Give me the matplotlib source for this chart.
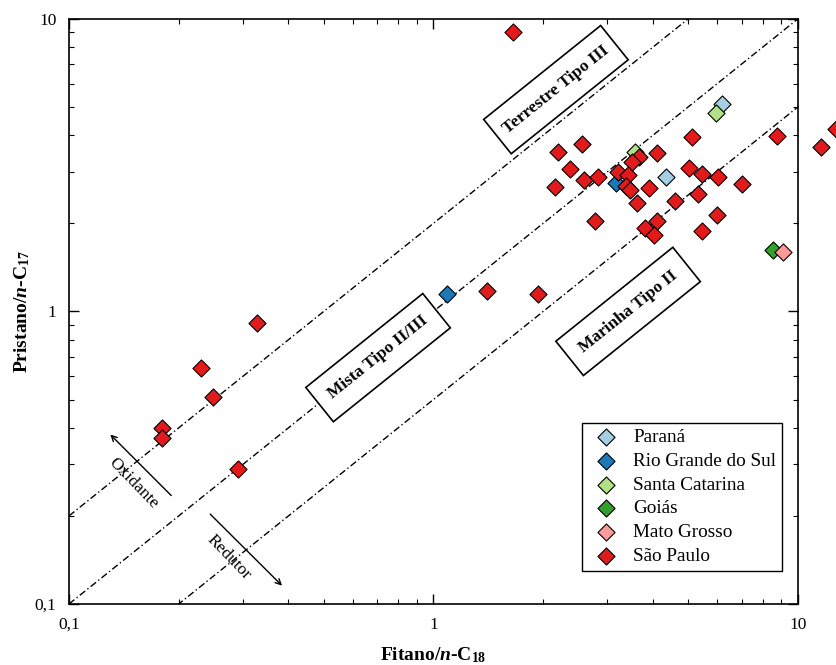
import numpy as np
import matplotlib
matplotlib.use("Agg")
import matplotlib.pyplot as plt
from matplotlib.patches import Rectangle
from matplotlib.transforms import Affine2D, ScaledTranslation
from matplotlib.ticker import FuncFormatter, NullFormatter, LogLocator

plt.rcParams['font.family'] = ['Liberation Serif', 'DejaVu Serif']
plt.rcParams['mathtext.fontset'] = 'custom'
plt.rcParams['mathtext.rm'] = 'Liberation Serif:bold'
plt.rcParams['mathtext.bf'] = 'Liberation Serif:bold'
plt.rcParams['mathtext.it'] = 'Liberation Serif:italic:bold'

# Fitano/n-C18 (x) e Pristano/n-C17 (y) por estado
parana_x = [6.18, 4.34]
parana_y = [5.10, 2.87]

rgs_x = [3.17, 1.09]
rgs_y = [2.75, 1.15]

sc_x = [5.95, 3.57]
sc_y = [4.75, 3.51]

goias_x = [8.52]
goias_y = [1.62]

mt_x = [9.12]
mt_y = [1.59]

sp_x = [1.65, 2.20, 2.56, 2.37, 2.15, 2.59, 2.83, 2.77, 3.66, 3.50,
        4.10, 3.21, 3.42, 3.38, 3.46, 3.91, 3.62, 4.61, 3.80, 4.10,
        4.03, 5.13, 8.76, 11.6, 12.7, 5.04, 5.47, 6.03, 7.00, 5.32,
        6.01, 5.44, 1.40, 1.94, 0.329, 0.23, 0.249, 0.18, 0.18, 0.29]
sp_y = [9.00, 3.50, 3.72, 3.06, 2.67, 2.81, 2.87, 2.04, 3.36, 3.25,
        3.47, 3.00, 2.92, 2.69, 2.60, 2.65, 2.35, 2.39, 1.93, 2.03,
        1.82, 3.96, 3.98, 3.65, 4.20, 3.10, 2.94, 2.88, 2.72, 2.51,
        2.14, 1.89, 1.17, 1.15, 0.91, 0.64, 0.51, 0.40, 0.37, 0.29]

estados = ['Paraná', 'Rio Grande do Sul', 'Santa Catarina', 'Goiás',
           'Mato Grosso', 'São Paulo']
cores = ['#a6cee3', '#1f78b4', '#b2df8a', '#33a02c', '#fb9a99', '#e31a1c']

# linhas de razao Pr/n-C17 = k * Ph/n-C18
razoes = [2.0, 1.0, 0.5]
x_linha = np.array([0.1, 10.0])

W, H = 8.36, 6.65
fig = plt.figure(figsize=(W, H), dpi=100)
ax = fig.add_axes([0.0825, 0.0917, 0.872, 0.880])

for k in razoes:
    ax.plot(x_linha, k * x_linha, color='black', lw=1.0,
            dashes=(5, 2, 1, 2), zorder=1)

series = [(parana_x, parana_y), (rgs_x, rgs_y), (sc_x, sc_y),
          (goias_x, goias_y), (mt_x, mt_y), (sp_x, sp_y)]
for (xs, ys), nome, cor in zip(series, estados, cores):
    ax.scatter(xs, ys, marker='D', s=76, facecolor=cor, edgecolor='black',
               linewidth=0.8, label=nome, zorder=3, clip_on=False)

ax.set_xscale('log')
ax.set_yscale('log')
ax.set_xlim(0.1, 10)
ax.set_ylim(0.1, 10)

fmt = FuncFormatter(lambda v, p: ('%g' % v).replace('.', ','))
for eixo in (ax.xaxis, ax.yaxis):
    eixo.set_major_locator(LogLocator(base=10))
    eixo.set_minor_locator(LogLocator(base=10, subs=np.arange(2, 10)))
    eixo.set_major_formatter(fmt)
    eixo.set_minor_formatter(NullFormatter())
ax.tick_params(which='both', direction='in', top=True, right=True,
               labelsize=12.5)
ax.tick_params(which='major', length=7, width=1)
ax.tick_params(which='minor', length=3.5, width=0.8)
ax.tick_params(axis='x', pad=9)
ax.tick_params(axis='y', pad=9)
for s in ax.spines.values():
    s.set_linewidth(1.2)

ax.set_xlabel(r'Fitano/$\mathit{n}$-C$_{18}$', fontsize=14,
              fontweight='bold', labelpad=9)
ax.set_ylabel(r'Pristano/$\mathit{n}$-C$_{17}$', fontsize=14,
              fontweight='bold', labelpad=2)

# angulo das linhas na tela
ang = np.degrees(np.arctan((0.880 * H) / (0.872 * W)))

# caixas dos tipos de querogenio (1.5 x 0.44 pol)
for txt, pos in [('Terrestre Tipo III', (0.668, 0.879)),
                 ('Mista Tipo II/III', (0.424, 0.421)),
                 ('Marinha Tipo II', (0.767, 0.500))]:
    tr = (Affine2D().rotate_deg(ang) + fig.dpi_scale_trans
          + ScaledTranslation(pos[0], pos[1], ax.transAxes))
    ax.add_patch(Rectangle((-0.75, -0.22), 1.5, 0.44, transform=tr,
                           fc='white', ec='black', lw=1.2, zorder=2))
    ax.text(pos[0], pos[1], txt, transform=ax.transAxes, rotation=ang,
            rotation_mode='anchor', ha='center', va='center',
            fontsize=12.5, fontweight='bold', zorder=2.5)

seta = dict(arrowstyle='->', color='black', lw=1.0)
ax.annotate('', xy=(0.054, 0.293), xytext=(0.143, 0.182),
            xycoords='axes fraction', arrowprops=seta)
ax.annotate('', xy=(0.295, 0.028), xytext=(0.191, 0.157),
            xycoords='axes fraction', arrowprops=seta)
ax.text(0.089, 0.207, 'Oxidante', transform=ax.transAxes, rotation=-46,
        rotation_mode='anchor', ha='center', va='center', fontsize=12.5)
ax.text(0.219, 0.079, 'Redutor', transform=ax.transAxes, rotation=-46,
        rotation_mode='anchor', ha='center', va='center', fontsize=12.5)

leg = ax.legend(loc='lower right', bbox_to_anchor=(0.978, 0.057),
                fontsize=13.8, frameon=True, fancybox=False, edgecolor='black',
                borderpad=0.3, labelspacing=0.33, handletextpad=0.45,
                handlelength=1.93, borderaxespad=0)
leg.get_frame().set_linewidth(1.0)
leg.get_frame().set_alpha(1)

fig.savefig('out.png', dpi=100)
